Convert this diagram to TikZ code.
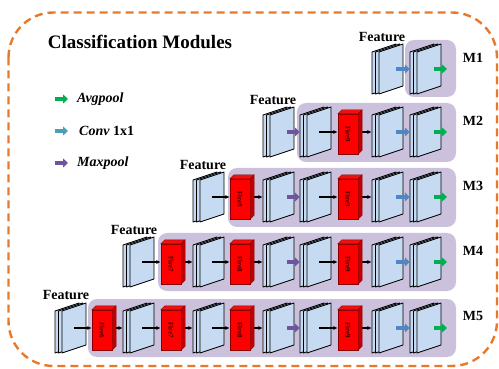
\documentclass[tikz,border=0pt]{standalone}
\usepackage{fontspec}
\setmainfont{Liberation Serif}
\usetikzlibrary{arrows.meta}

\definecolor{borderorange}{HTML}{E8792A}
\definecolor{boxlav}{HTML}{CCC1DC}
\definecolor{panelblue}{HTML}{C6DBF2}
\definecolor{firered}{HTML}{FF0000}
\definecolor{firetopc}{HTML}{F01010}
\definecolor{firesidec}{HTML}{C00000}
\definecolor{firedark}{HTML}{8A0000}
\definecolor{agreen}{HTML}{00B050}
\definecolor{cblue}{HTML}{4F87C5}
\definecolor{cteal}{HTML}{4BA0B8}
\definecolor{mpurple}{HTML}{6F55A0}

\pgfdeclarelayer{back}
\pgfdeclarelayer{arrowlayer}
\pgfdeclarelayer{front}
\pgfsetlayers{back,main,arrowlayer,front}

\tikzset{
  panel/.style={fill=panelblue, draw=black, line width=0.8, line join=round},
  modbox/.style={fill=boxlav, rounded corners=9},
  fireface/.style={fill=firered, draw=firedark, line width=0.4, inner sep=0,
                   minimum width=20, minimum height=40},
  firetop/.style={fill=firetopc, draw=firedark, line width=0.4},
  fireside/.style={fill=firesidec, draw=firedark, line width=0.4},
  firetext/.style={rotate=-90, text=black!80!red, font=\fontsize{7}{7}\selectfont\bfseries, inner sep=0},
  flow/.style={-{Latex[length=4.5pt,width=4pt]}, line width=1.1, draw=black},
  blk/.style={line width=4.2, -{Triangle[length=5pt,width=9pt]}},
  maxp/.style={blk, draw=mpurple},
  convarr/.style={blk, draw=cblue},
  convleg/.style={blk, draw=cteal},
  avgp/.style={blk, draw=agreen},
  featlbl/.style={font=\fontsize{14}{14}\selectfont\bfseries, inner sep=0},
  modlbl/.style={font=\fontsize{14}{14}\selectfont\bfseries, inner sep=0},
  leglbl/.style={font=\fontsize{14}{14}\selectfont\bfseries\itshape, inner sep=0, anchor=west},
  titlelbl/.style={font=\fontsize{19}{19}\selectfont\bfseries, inner sep=0},
}

% a stack of three feature maps: name, left x, centre y
\newcommand\stk[3]{%
  \foreach \d in {0,3.5,7} {
    \filldraw[panel] (#2+\d,#3-17) -- ++(24,-8) -- ++(0,42) -- ++(-24,8) -- cycle;
  }
  \node[inner sep=0, minimum width=31, minimum height=50] (#1) at (#2+15.5,#3) {};
  \coordinate (#1-c) at (#2+19,#3);
}

% a red fire block: name, left x, centre y, text
\newcommand\fireblk[4]{%
  \begin{pgfonlayer}{front}
    \node[fireface] (#1) at (#2+10,#3+2) {};
    \filldraw[firetop] (#1.north west) -- ++(4,-4) -- ++(20,0) -- (#1.north east) -- cycle;
    \filldraw[fireside] (#1.north east) -- ++(4,-4) -- ([shift={(4,-4)}]#1.south east) -- (#1.south east) -- cycle;
    \node[firetext] at (#1.center) {#4};
  \end{pgfonlayer}
}

% stack -> fire block -> stack
\newcommand\firestep[3]{%
  \begin{pgfonlayer}{arrowlayer}
    \draw[flow] (#1-c) -- (#1-c -| #2.west);
    \draw[flow] (#2.center |- #3.west) -- (#3.west);
  \end{pgfonlayer}
}

% common end of modules M2 to M5
\newcommand\tailrow[2]{%
  \stk{#1s4}{263}{#2}
  \stk{#1s5}{300}{#2}
  \fireblk{#1f9}{338}{#2}{Fire9}
  \stk{#1s6}{372}{#2}
  \stk{#1s7}{410}{#2}
  \firestep{#1s5}{#1f9}{#1s6}
  \begin{pgfonlayer}{arrowlayer}
    \draw[maxp] ([xshift=5]#1s4-c) -- (#1s5.west);
    \draw[convarr] ([xshift=5]#1s6-c) -- (#1s7.west);
    \draw[avgp] ([xshift=5]#1s7-c) -- ([xshift=18]#1s7-c);
  \end{pgfonlayer}
}

\begin{document}
\begin{tikzpicture}[x=1pt, y=-1pt]
  \useasboundingbox (0,0) rectangle (499,369);

  % outer dashed frame
  \draw[borderorange, line width=2.4, dash pattern=on 8pt off 5pt, rounded corners=45]
    (8.5,12.5) rectangle (497,366);

  \node[titlelbl] (title) at (140,42) {Classification Modules};

  % legend
  \node[leglbl] (lgavg) at (77,99) {Avgpool};
  \node[leglbl] (lgconv) at (79,131) {Conv\/ \upshape 1x1};
  \node[leglbl] (lgmax) at (77,163) {Maxpool};
  \draw[avgp] ([xshift=-22]lgavg.west) -- ([xshift=-9]lgavg.west);
  \draw[convleg] ([xshift=-24]lgconv.west) -- ([xshift=-11]lgconv.west);
  \draw[maxp] ([xshift=-22]lgmax.west) -- ([xshift=-9]lgmax.west);

  % module backgrounds
  \begin{pgfonlayer}{back}
    \fill[modbox] (405,40) rectangle (456,97);
    \fill[modbox] (297,103) rectangle (456,162);
    \fill[modbox] (228,168) rectangle (456,227);
    \fill[modbox] (158,233) rectangle (456,291);
    \fill[modbox] (88,299) rectangle (456,357);
  \end{pgfonlayer}

  % M1
  \stk{m1s6}{372}{69}
  \stk{m1s7}{410}{69}
  \begin{pgfonlayer}{arrowlayer}
    \draw[convarr] ([xshift=5]m1s6-c) -- (m1s7.west);
    \draw[avgp] ([xshift=5]m1s7-c) -- ([xshift=18]m1s7-c);
  \end{pgfonlayer}
  \node[featlbl] (feat1) at (382,37) {Feature};
  \node[modlbl] (lbl1) at (473,58) {M1};

  % M2
  \tailrow{m2}{132}
  \node[featlbl] (feat2) at (273,100) {Feature};
  \node[modlbl] (lbl2) at (473,121) {M2};

  % M3
  \stk{m3s3}{193}{197}
  \fireblk{m3f8}{230}{197}{Fire8}
  \tailrow{m3}{197}
  \firestep{m3s3}{m3f8}{m3s4}
  \node[featlbl] (feat3) at (203,165) {Feature};
  \node[modlbl] (lbl3) at (473,186) {M3};

  % M4
  \stk{m4s2}{123}{262}
  \fireblk{m4f7}{161}{262}{Fire7}
  \stk{m4s3}{193}{262}
  \fireblk{m4f8}{230}{262}{Fire8}
  \tailrow{m4}{262}
  \firestep{m4s2}{m4f7}{m4s3}
  \firestep{m4s3}{m4f8}{m4s4}
  \node[featlbl] (feat4) at (134,230) {Feature};
  \node[modlbl] (lbl4) at (473,251) {M4};

  % M5
  \stk{m5s1}{55}{328}
  \fireblk{m5f6}{92}{328}{Fire6}
  \stk{m5s2}{123}{328}
  \fireblk{m5f7}{161}{328}{Fire7}
  \stk{m5s3}{193}{328}
  \fireblk{m5f8}{230}{328}{Fire8}
  \tailrow{m5}{328}
  \firestep{m5s1}{m5f6}{m5s2}
  \firestep{m5s2}{m5f7}{m5s3}
  \firestep{m5s3}{m5f8}{m5s4}
  \node[featlbl] (feat5) at (66,295) {Feature};
  \node[modlbl] (lbl5) at (473,316) {M5};
\end{tikzpicture}
\end{document}
